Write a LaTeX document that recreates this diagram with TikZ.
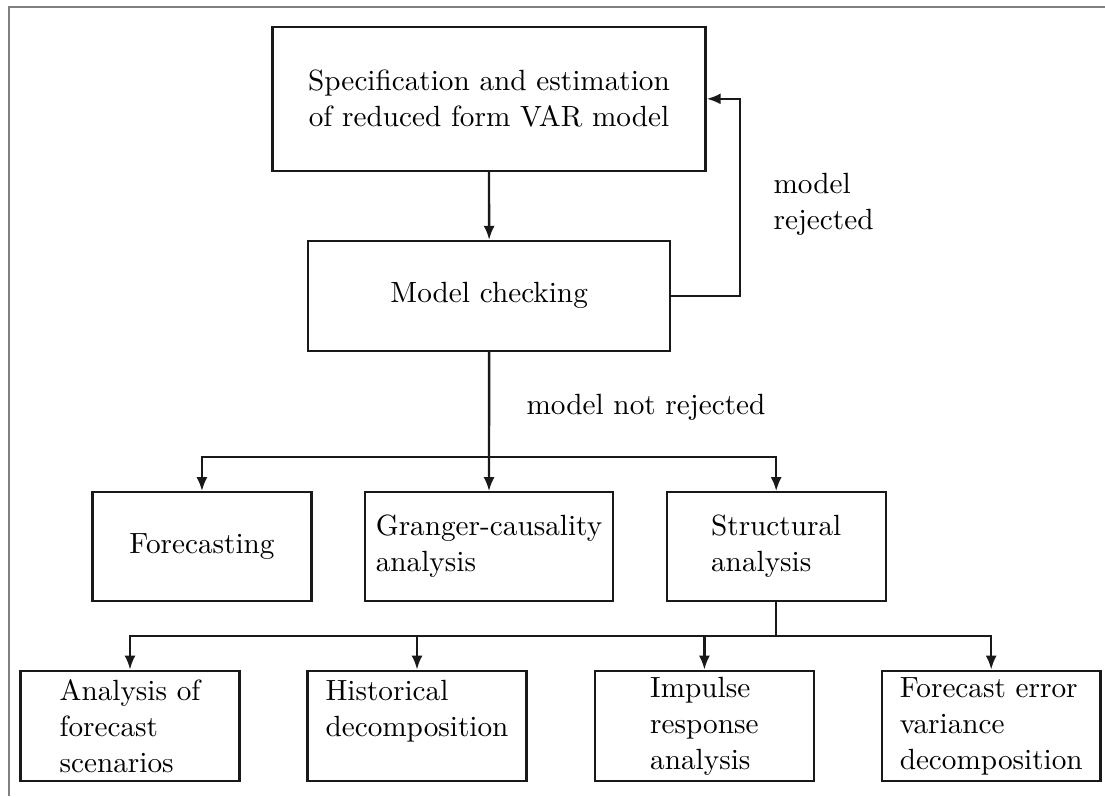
\documentclass[tikz,border=0pt]{standalone}
\usetikzlibrary{arrows.meta}
\begin{document}
\begin{tikzpicture}[x=0.342pt,y=-0.342pt,
  box/.style={draw=black!90, line width=0.8pt, inner sep=0pt, align=left,
    font=\fontsize{10}{12.3}\selectfont},
  lab/.style={inner sep=0pt, align=left, font=\fontsize{10}{12.3}\selectfont},
  conn/.style={draw=black!90, line width=0.8pt},
  arr/.style={conn, -{Latex[length=4.8pt,width=3.8pt]}},
  frame/.style={draw=black!50, line width=0.8pt}]
\useasboundingbox (0,0) rectangle (1105,796);
\coordinate (f0) at (9,796);
\coordinate (f1) at (9,6.7);
\coordinate (f2) at (1105,6.7);
\draw[frame] (f0) -- (f1) -- (f2);

\node[box, minimum width=148.1pt, minimum height=49.35pt, align=center] (top) at (489,98.85)
  {Specification and estimation\\of reduced form VAR model};
\node[box, minimum width=123.7pt, minimum height=37.5pt] (check) at (489.15,295.85) {Model checking};

\node[box, minimum width=74.9pt, minimum height=37.2pt] (fc) at (201.95,546.65) {Forecasting};
\node[box, minimum width=84.8pt, minimum height=37.2pt] (gc) at (489,546.65) {Granger-causality\\analysis};
\node[box, minimum width=74.9pt, minimum height=37.2pt] (sa) at (776.2,546.65) {Structural\\analysis};

\node[box, minimum width=74.8pt, minimum height=37.8pt] (an) at (130,726) {Analysis of\\forecast\\scenarios};
\node[box, minimum width=74.8pt, minimum height=37.8pt] (hd) at (417,726) {Historical\\decomposition\\\mbox{}};
\node[box, minimum width=74.8pt, minimum height=37.8pt] (ir) at (704.4,726) {Impulse\\response\\analysis};
\node[box, minimum width=74.8pt, minimum height=37.8pt] (fe) at (991.2,726) {Forecast error\\variance\\decomposition};

\node[lab, anchor=west] (rej) at (773,204.5) {model\\rejected};
\node[lab, anchor=base west] (nrej) at (526,414) {model not rejected};

\draw[arr] (top.south) -- (check.north);
\coordinate (rt) at (740,98.85);
\draw[arr] (check.east) -| (rt) -- (top.east);

\coordinate (b1) at (489,457);
\draw[arr] (check.south) -- (gc.north);
\draw[arr] (b1) -| (fc.north);
\draw[arr] (b1) -| (sa.north);

\coordinate (b2) at (776.2,636);
\draw[conn] (sa.south) -- (b2);
\draw[arr] (b2) -| (an.north);
\draw[arr] (b2) -| (hd.north);
\draw[arr] (b2) -| (ir.north);
\draw[arr] (b2) -| (fe.north);
\end{tikzpicture}
\end{document}
